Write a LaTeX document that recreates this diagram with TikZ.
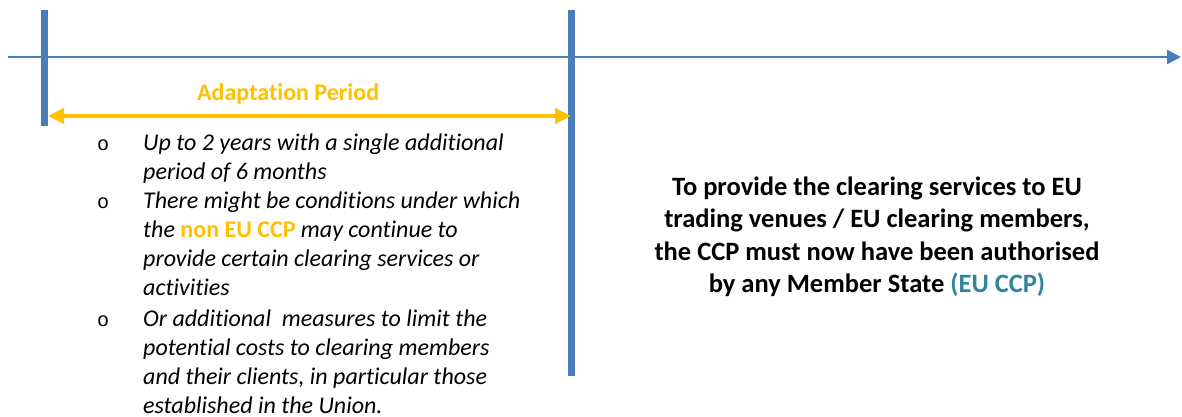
\documentclass[tikz,border=0pt]{standalone}
\usepackage{fontspec}
\setmainfont{Carlito}[Ligatures=NoCommon]
\newfontfamily\bulletfont{Liberation Mono}
\usetikzlibrary{arrows.meta}
\definecolor{tlblue}{HTML}{4A7EBB}
\definecolor{adorange}{HTML}{FFC000}
\definecolor{euteal}{HTML}{31849B}
\begin{document}
\begin{tikzpicture}[x=1pt,y=-1pt,
  timeline/.style={draw=tlblue, line width=2.5pt, -{Triangle[length=14pt,width=14pt]}},
  bar/.style={draw=tlblue, line width=7pt},
  period/.style={draw=adorange, line width=4pt, {Triangle[length=16pt,width=15pt]}-{Triangle[length=16pt,width=15pt]}},
  itemtext/.style={anchor=base west, inner sep=0pt, align=left, font=\fontsize{24}{29}\selectfont\itshape},
  bulletmark/.style={anchor=base, inner sep=0pt, font=\fontsize{20}{24}\selectfont\bulletfont},
  rightnote/.style={anchor=base, inner sep=0pt, align=center, font=\fontsize{26.5}{32.5}\selectfont\bfseries}]
\useasboundingbox (0,0) rectangle (1182,417);
\fill[white] (0,0) rectangle (1182,417);
\coordinate (tlstart) at (8,57);
\coordinate (tlend) at (1181,57);
\coordinate (lbtop) at (44.5,10);
\coordinate (lbbot) at (44.5,126);
\coordinate (rbtop) at (571.5,10);
\coordinate (rbbot) at (571.5,376);
\coordinate (pstart) at (48,116);
\coordinate (pend) at (571,116);
\draw[timeline] (tlstart) -- (tlend);
\draw[bar] (lbtop) -- (lbbot);
\draw[bar] (rbtop) -- (rbbot);
\draw[period] (pstart) -- (pend);
\node[anchor=base west, inner sep=0pt, text=adorange, font=\fontsize{24}{29}\selectfont\bfseries] (plabel) at (197,101) {Adaptation Period};
\node[bulletmark] (b1) at (103,150) {o};
\node[bulletmark] (b2) at (103,208) {o};
\node[bulletmark] (b3) at (103,326) {o};
\node[itemtext] (t1) at (143,179) {Up to 2 years with a single additional\\period of 6 months};
\node[itemtext] (t2) at (143,295) {There might be conditions under which\\the {\upshape\bfseries\color{adorange}non EU CCP} may continue to\\provide certain clearing services or\\activities};
\node[itemtext] (t3) at (143,413) {Or additional\ \ measures to limit the\\potential costs to clearing members\\and their clients, in particular those\\established in the Union.};
\node[rightnote] (note) at (877,292.5) {To provide the clearing services to EU\\trading venues / EU clearing members,\\the CCP must now have been authorised\\by any Member State {\color{euteal}(EU CCP)}};
\end{tikzpicture}
\end{document}
